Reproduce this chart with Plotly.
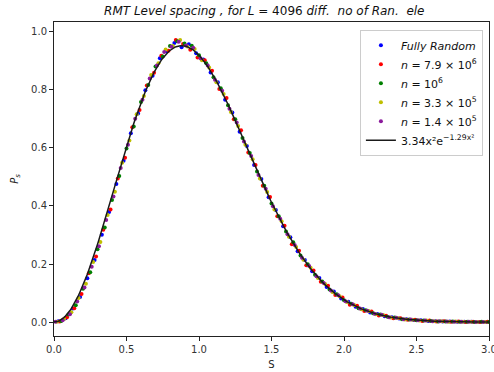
import numpy as np
import plotly.graph_objects as go

# ---------------- data ----------------
# common bin grid (s values); each run is offset slightly
bin_grid = [
    0.05, 0.10, 0.15, 0.20, 0.25, 0.30, 0.35, 0.40, 0.45, 0.50,
    0.55, 0.60, 0.65, 0.70, 0.75, 0.80, 0.85, 0.90, 0.95, 1.00,
    1.05, 1.10, 1.15, 1.20, 1.25, 1.30, 1.35, 1.40, 1.45, 1.50,
    1.55, 1.60, 1.65, 1.70, 1.75, 1.80, 1.85, 1.90, 1.95, 2.00,
    2.05, 2.10, 2.15, 2.20, 2.25, 2.30, 2.35, 2.40, 2.45, 2.50,
    2.55, 2.60, 2.65, 2.70, 2.75, 2.80, 2.85, 2.90, 2.95, 3.00,
]

series_names = [
    "<i>Fully Random</i>",
    "<i>n</i> = 7.9 × 10<sup>6</sup>",
    "<i>n</i> = 10<sup>6</sup>",
    "<i>n</i> = 3.3 × 10<sup>5</sup>",
    "<i>n</i> = 1.4 × 10<sup>5</sup>",
]
series_shift = [-0.02, -0.01, 0.0, -0.03, -0.04]

p_fully_random = [
    0.003, 0.013, 0.047, 0.086, 0.151, 0.214, 0.301, 0.379, 0.476, 0.556,
    0.651, 0.719, 0.799, 0.849, 0.909, 0.933, 0.962, 0.947, 0.957, 0.926,
    0.905, 0.860, 0.826, 0.766, 0.722, 0.656, 0.607, 0.541, 0.493, 0.430,
    0.386, 0.330, 0.292, 0.244, 0.214, 0.175, 0.152, 0.121, 0.105, 0.081,
    0.070, 0.053, 0.045, 0.033, 0.028, 0.020, 0.017, 0.012, 0.010, 0.007,
    0.006, 0.004, 0.003, 0.002, 0.002, 0.001, 0.001, 0.001, 0.000, 0.000,
]
p_n79e6 = [
    0.002, 0.017, 0.048, 0.097, 0.168, 0.226, 0.318, 0.388, 0.495, 0.566,
    0.671, 0.731, 0.815, 0.859, 0.918, 0.935, 0.972, 0.958, 0.938, 0.912,
    0.902, 0.866, 0.803, 0.772, 0.699, 0.661, 0.584, 0.541, 0.470, 0.431,
    0.365, 0.332, 0.268, 0.246, 0.196, 0.178, 0.139, 0.125, 0.093, 0.085,
    0.060, 0.056, 0.038, 0.036, 0.023, 0.022, 0.013, 0.013, 0.008, 0.008,
    0.004, 0.005, 0.002, 0.003, 0.001, 0.002, 0.000, 0.001, 0.000, 0.001,
]
p_n1e6 = [
    0.004, 0.026, 0.058, 0.115, 0.172, 0.251, 0.326, 0.421, 0.503, 0.598,
    0.674, 0.758, 0.817, 0.881, 0.915, 0.951, 0.968, 0.960, 0.952, 0.919,
    0.892, 0.844, 0.806, 0.747, 0.699, 0.634, 0.583, 0.519, 0.470, 0.409,
    0.365, 0.312, 0.275, 0.229, 0.199, 0.163, 0.140, 0.112, 0.096, 0.075,
    0.063, 0.048, 0.041, 0.030, 0.026, 0.018, 0.016, 0.010, 0.009, 0.006,
    0.005, 0.004, 0.002, 0.002, 0.002, 0.001, 0.001, 0.000, 0.001, 0.000,
]
p_n33e5 = [
    0.001, 0.011, 0.034, 0.083, 0.132, 0.207, 0.276, 0.369, 0.449, 0.549,
    0.626, 0.716, 0.779, 0.851, 0.892, 0.939, 0.951, 0.972, 0.950, 0.941,
    0.902, 0.877, 0.826, 0.786, 0.724, 0.676, 0.611, 0.561, 0.495, 0.448,
    0.388, 0.347, 0.294, 0.259, 0.215, 0.187, 0.152, 0.131, 0.104, 0.089,
    0.069, 0.059, 0.044, 0.038, 0.027, 0.024, 0.016, 0.014, 0.009, 0.008,
    0.005, 0.005, 0.003, 0.003, 0.001, 0.002, 0.001, 0.001, 0.000, 0.000,
]
p_n14e5 = [
    0.001, 0.006, 0.027, 0.071, 0.119, 0.191, 0.261, 0.352, 0.433, 0.531,
    0.611, 0.701, 0.766, 0.839, 0.884, 0.931, 0.949, 0.966, 0.953, 0.945,
    0.909, 0.884, 0.835, 0.797, 0.735, 0.688, 0.622, 0.572, 0.507, 0.459,
    0.399, 0.356, 0.303, 0.266, 0.222, 0.193, 0.158, 0.135, 0.109, 0.092,
    0.072, 0.061, 0.047, 0.039, 0.029, 0.025, 0.017, 0.015, 0.010, 0.009,
    0.006, 0.005, 0.003, 0.003, 0.002, 0.001, 0.001, 0.001, 0.000, 0.000,
]
series_values = [p_fully_random, p_n79e6, p_n1e6, p_n33e5, p_n14e5]
series_colors = ["#0000ff", "#ff0000", "#008000", "#bfbf00", "#8b1a9b"]

# fit shown in legend: 3.34 x^2 exp(-1.29 x^2)
fit_a = 3.34
fit_b = 1.29

x_ticks = [0.0, 0.5, 1.0, 1.5, 2.0, 2.5, 3.0]
y_ticks = [0.0, 0.2, 0.4, 0.6, 0.8, 1.0]

# ---------------- figure ----------------
fig = go.Figure()
for name, shift, vals, col in zip(series_names, series_shift, series_values, series_colors):
    xs = [round(g + shift, 3) for g in bin_grid]
    fig.add_trace(go.Scatter(
        x=xs, y=vals, mode="markers", name=name,
        marker=dict(color=col, size=4, line=dict(width=0)),
    ))

xf = np.linspace(0, 3, 400)
yf = fit_a * xf**2 * np.exp(-fit_b * xf**2)
fig.add_trace(go.Scatter(
    x=xf, y=yf, mode="lines",
    name="3.34x²e<sup>−1.29x²</sup>",
    line=dict(color="#1a1a1a", width=1.5),
))

axis_common = dict(
    showgrid=False, zeroline=False,
    showline=True, linecolor="#222222", linewidth=1, mirror=True,
    ticks="outside", ticklen=4, tickcolor="#222222", tickwidth=1,
    tickfont=dict(family="DejaVu Sans", size=10, color="#333333"),
    ticklabeloverflow="allow", automargin=False,
)

fig.update_layout(
    width=494, height=372,
    margin=dict(l=54, r=5, t=22, b=36),
    paper_bgcolor="white", plot_bgcolor="white",
    font=dict(family="DejaVu Sans", color="#222222"),
    title=dict(
        text="<i>RMT Level spacing , for L</i> = 4096 <i>diff.  no of Ran.  ele</i>",
        x=0.535, xanchor="center", y=0.97, yanchor="middle",
        font=dict(family="DejaVu Sans", size=12, color="#111111"),
    ),
    xaxis=dict(
        range=[0, 3], tickvals=x_ticks, tickformat=".1f",
        title=dict(text="S", font=dict(size=10), standoff=6),
        **axis_common,
    ),
    yaxis=dict(
        range=[-0.048, 1.034], tickvals=y_ticks, tickformat=".1f",
        title=dict(text="<i>P<sub>s</sub></i>", font=dict(size=10), standoff=10),
        **axis_common,
    ),
    legend=dict(
        x=0.986, xanchor="right", y=0.975, yanchor="top",
        bgcolor="rgba(255,255,255,0.85)", bordercolor="#cccccc", borderwidth=1,
        font=dict(family="DejaVu Sans", size=11, color="#111111"),
        itemwidth=30,
    ),
    showlegend=True,
)

fig.write_html("out.html")
